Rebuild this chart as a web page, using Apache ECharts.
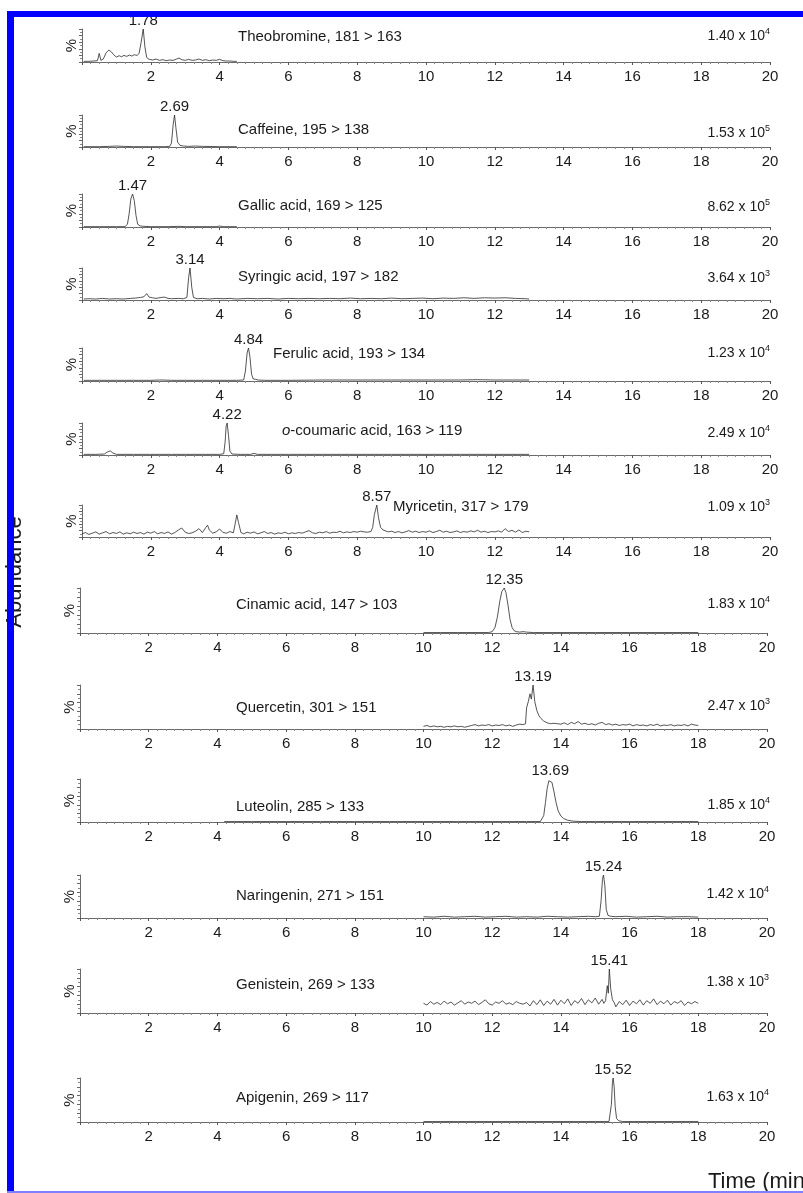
<!DOCTYPE html>
<html>
<head>
<meta charset="utf-8">
<script src="https://cdn.jsdelivr.net/npm/echarts@6/dist/echarts.min.js"></script>
<style>
  html, body { margin: 0; padding: 0; background: #fff; }
  #chart { width: 803px; height: 1193px; }
</style>
</head>
<body>
<div id="chart"></div>
<script>
// ---- Data: MRM chromatograms (time in min, relative abundance in %) ----
const compounds = ['Theobromine', 'Caffeine', 'Gallic acid', 'Syringic acid', 'Ferulic acid',
  'o-coumaric acid', 'Myricetin', 'Cinamic acid', 'Quercetin', 'Luteolin',
  'Naringenin', 'Genistein', 'Apigenin'];
const transitions = ['181 > 163', '195 > 138', '169 > 125', '197 > 182', '193 > 134',
  '163 > 119', '317 > 179', '147 > 103', '301 > 151', '285 > 133',
  '271 > 151', '269 > 133', '269 > 117'];
const scaleMantissa = ['1.40', '1.53', '8.62', '3.64', '1.23', '2.49', '1.09',
  '1.83', '2.47', '1.85', '1.42', '1.38', '1.63'];
const scaleExponent = ['4', '5', '5', '3', '4', '4', '3', '4', '3', '4', '4', '3', '4'];
const peakTimes = [1.78, 2.69, 1.47, 3.14, 4.84, 4.22, 8.57, 12.35, 13.19, 13.69, 15.24, 15.41, 15.52];
const xTickLabels = [2, 4, 6, 8, 10, 12, 14, 16, 18, 20];

const traceTheobromine = [[0.05,2],[0.2,2],[0.35,3],[0.45,4],[0.5,26],[0.55,5],[0.62,9],[0.7,28],[0.78,36],
  [0.85,31],[0.92,22],[1.0,15],[1.08,19],[1.15,16],[1.22,20],[1.3,17],[1.38,21],[1.45,18],[1.52,22],
  [1.6,20],[1.66,26],[1.72,60],[1.78,100],[1.83,45],[1.88,14],[1.95,8],[2.05,6],[2.15,9],[2.25,5],
  [2.35,7],[2.45,4],[2.55,6],[2.65,5],[2.75,9],[2.82,12],[2.9,7],[3.0,5],[3.1,8],[3.2,5],[3.3,6],
  [3.4,9],[3.5,5],[3.6,7],[3.7,4],[3.8,6],[3.9,5],[4.0,8],[4.1,4],[4.2,3],[4.3,3],[4.4,2],[4.5,2]];
const traceCaffeine = [[0.05,1],[0.5,1],[0.8,2],[1.0,3],[1.2,2],[1.5,1],[2.0,1],[2.4,1],[2.55,2],[2.6,12],
  [2.65,70],[2.69,100],[2.73,60],[2.78,15],[2.85,5],[2.95,3],[3.1,2],[3.3,3],[3.5,2],[4.0,1],[4.5,1]];
const traceGallic = [[0.05,1],[0.5,1],[1.0,1],[1.25,1],[1.32,8],[1.37,40],[1.42,85],[1.47,100],[1.52,80],
  [1.57,35],[1.62,8],[1.7,3],[1.8,2],[2.0,1],[2.5,1],[2.85,2],[2.9,3],[3.0,1],[3.9,1],[4.0,3],[4.1,1],[4.5,1]];
const traceSyringic = [[0.05,3],[0.2,4],[0.4,3],[0.6,5],[0.8,3],[1.0,4],[1.2,3],[1.4,5],[1.55,6],[1.7,8],
  [1.8,10],[1.88,20],[1.95,9],[2.05,7],[2.15,5],[2.3,8],[2.4,9],[2.5,5],[2.6,4],[2.8,5],[2.95,4],[3.05,8],
  [3.1,70],[3.14,100],[3.19,40],[3.24,8],[3.35,4],[3.5,5],[3.7,3],[3.9,5],[4.1,4],[4.3,5],[4.5,3],[4.8,5],
  [5.1,4],[5.4,5],[5.7,3],[6.0,5],[6.3,4],[6.6,5],[6.9,4],[7.2,5],[7.5,4],[7.8,6],[8.1,4],[8.4,5],[8.7,4],
  [9.0,6],[9.3,4],[9.6,5],[9.9,6],[10.2,4],[10.5,6],[10.8,5],[11.1,7],[11.4,5],[11.7,7],[12.0,6],[12.3,7],
  [12.6,5],[12.9,4],[13.0,3]];
const traceFerulic = [[0.05,2],[0.5,2],[1.0,2],[1.5,2],[2.0,2],[2.25,3],[2.3,8],[2.35,3],[2.6,2],[3.0,2],
  [3.5,2],[4.0,2],[4.5,2],[4.7,3],[4.75,30],[4.8,85],[4.84,100],[4.88,75],[4.93,20],[4.98,6],[5.05,5],
  [5.12,3],[5.3,2],[6.0,2],[7.0,3],[8.0,3],[9.0,3],[10.0,3],[11.0,3],[11.5,4],[12.0,3],[12.5,3],[13.0,3]];
const traceCoumaric = [[0.05,2],[0.4,2],[0.65,3],[0.75,10],[0.82,13],[0.9,6],[1.0,2],[1.5,2],[2.0,2],[2.6,2],
  [3.0,2],[3.6,2],[4.0,2],[4.12,4],[4.16,40],[4.19,90],[4.22,100],[4.26,60],[4.3,12],[4.36,3],[4.6,2],
  [4.9,2],[5.0,5],[5.1,2],[6.0,2],[7.0,2],[8.0,2],[9.0,2],[10.0,2],[11.0,2],[12.0,2],[13.0,2]];
const traceMyricetin = [[0.0,10],[0.1,14],[0.2,8],[0.3,12],[0.4,16],[0.5,9],[0.6,13],[0.7,17],[0.8,10],
  [0.9,14],[1.0,11],[1.1,16],[1.2,9],[1.3,13],[1.4,10],[1.5,15],[1.6,11],[1.7,14],[1.8,9],[1.9,15],
  [2.0,12],[2.1,17],[2.2,10],[2.3,14],[2.4,11],[2.5,16],[2.6,9],[2.7,14],[2.8,22],[2.9,28],[3.0,15],
  [3.1,11],[3.2,13],[3.3,18],[3.4,26],[3.5,14],[3.6,30],[3.65,37],[3.7,22],[3.8,12],[3.9,16],[4.0,25],
  [4.1,14],[4.2,12],[4.3,17],[4.4,13],[4.45,40],[4.5,69],[4.55,45],[4.62,14],[4.7,10],[4.8,15],[4.9,12],
  [5.0,16],[5.1,10],[5.2,13],[5.3,17],[5.4,11],[5.5,14],[5.6,9],[5.7,13],[5.8,11],[5.9,15],[6.0,10],
  [6.1,13],[6.2,11],[6.3,14],[6.4,12],[6.5,16],[6.6,20],[6.7,13],[6.8,11],[6.9,15],[7.0,13],[7.1,17],
  [7.2,12],[7.3,15],[7.4,14],[7.5,18],[7.6,13],[7.7,16],[7.8,14],[7.9,17],[8.0,15],[8.1,18],[8.2,16],
  [8.3,15],[8.4,17],[8.45,30],[8.5,70],[8.57,100],[8.62,60],[8.68,30],[8.75,22],[8.8,20],[8.9,16],
  [9.0,18],[9.1,14],[9.2,17],[9.3,13],[9.4,16],[9.5,20],[9.6,15],[9.7,18],[9.8,14],[9.9,17],[10.0,15],
  [10.1,19],[10.2,14],[10.3,17],[10.4,21],[10.5,15],[10.6,18],[10.7,14],[10.8,16],[10.9,19],[11.0,14],
  [11.1,17],[11.2,15],[11.3,19],[11.4,16],[11.5,21],[11.6,15],[11.7,18],[11.8,14],[11.9,17],[12.0,16],
  [12.1,19],[12.2,15],[12.3,26],[12.4,17],[12.5,21],[12.6,15],[12.7,22],[12.8,14],[12.9,18],[13.0,16]];
const traceCinamic = [[10.0,1],[10.5,1],[11.0,1],[11.5,1],[11.9,1],[12.0,3],[12.08,12],[12.15,35],[12.22,70],
  [12.28,92],[12.35,100],[12.4,90],[12.46,62],[12.52,30],[12.58,12],[12.64,5],[12.7,3],[12.8,2],[12.9,3],
  [13.0,2],[13.2,1],[14.0,1],[15.0,1],[16.0,1],[17.0,1],[18.0,1]];
const traceQuercetin = [[10.0,6],[10.1,8],[10.2,5],[10.3,7],[10.4,5],[10.5,6],[10.6,4],[10.7,6],[10.8,5],
  [10.9,7],[11.0,5],[11.1,6],[11.2,4],[11.3,6],[11.4,8],[11.5,10],[11.6,7],[11.7,9],[11.8,8],[11.9,10],
  [12.0,7],[12.1,9],[12.2,8],[12.3,10],[12.4,7],[12.5,9],[12.6,6],[12.7,9],[12.8,11],[12.9,10],[12.97,12],
  [13.0,48],[13.05,62],[13.1,80],[13.14,68],[13.19,100],[13.24,62],[13.3,42],[13.36,30],[13.42,24],
  [13.5,18],[13.55,20],[13.6,14],[13.65,17],[13.7,12],[13.75,16],[13.8,13],[13.85,17],[13.9,12],
  [13.95,15],[14.0,11],[14.1,14],[14.2,10],[14.3,15],[14.4,12],[14.5,17],[14.6,11],[14.7,13],[14.8,10],
  [14.9,12],[15.0,9],[15.1,13],[15.2,15],[15.3,10],[15.4,12],[15.5,9],[15.6,11],[15.7,8],[15.8,10],
  [15.9,9],[16.0,11],[16.1,7],[16.2,10],[16.3,8],[16.4,9],[16.5,7],[16.6,10],[16.7,8],[16.8,11],[16.9,7],
  [17.0,9],[17.1,8],[17.2,10],[17.3,7],[17.4,9],[17.5,8],[17.6,10],[17.7,7],[17.8,11],[17.9,9],[18.0,8]];
const traceLuteolin = [[4.2,1],[5,1],[6,1],[7,1],[8,1],[9,1],[10,1],[11,1],[12,1],[13,1],[13.4,1],[13.45,3],
  [13.5,15],[13.55,45],[13.6,78],[13.65,96],[13.69,100],[13.74,92],[13.8,70],[13.86,45],[13.92,26],
  [14.0,14],[14.08,8],[14.2,4],[14.35,2],[14.6,1],[15,1],[16,1],[17,1],[18,1]];
const traceNaringenin = [[10.0,3],[10.3,2],[10.6,4],[10.9,2],[11.2,3],[11.5,4],[11.8,2],[12.1,3],[12.4,4],
  [12.7,2],[13.0,3],[13.3,2],[13.6,4],[13.9,3],[14.2,2],[14.5,3],[14.8,4],[15.0,3],[15.12,4],[15.17,40],
  [15.21,90],[15.24,100],[15.28,75],[15.32,20],[15.37,6],[15.45,4],[15.6,3],[15.9,4],[16.2,2],[16.5,3],
  [16.8,4],[17.1,2],[17.4,3],[17.7,3],[18.0,2]];
const traceGenistein = [[10.0,22],[10.1,18],[10.2,26],[10.3,20],[10.4,24],[10.5,19],[10.6,27],[10.7,21],
  [10.8,25],[10.9,18],[11.0,23],[11.1,28],[11.2,20],[11.3,25],[11.4,22],[11.5,27],[11.6,19],[11.7,24],
  [11.8,30],[11.9,21],[12.0,18],[12.1,25],[12.2,22],[12.3,28],[12.4,20],[12.5,23],[12.6,19],[12.7,26],
  [12.8,22],[12.9,20],[13.0,24],[13.1,16],[13.2,28],[13.3,19],[13.4,30],[13.5,17],[13.6,27],[13.7,20],
  [13.8,31],[13.9,18],[14.0,29],[14.1,21],[14.2,32],[14.3,17],[14.4,28],[14.5,22],[14.6,33],[14.7,19],
  [14.8,30],[14.9,23],[15.0,34],[15.1,20],[15.2,31],[15.25,22],[15.3,28],[15.35,62],[15.38,45],
  [15.41,100],[15.45,55],[15.5,30],[15.55,24],[15.6,14],[15.7,26],[15.8,19],[15.9,29],[16.0,17],
  [16.1,27],[16.2,21],[16.3,30],[16.4,18],[16.5,28],[16.6,22],[16.7,32],[16.8,19],[16.9,27],[17.0,21],
  [17.1,29],[17.2,18],[17.3,26],[17.4,22],[17.5,28],[17.6,17],[17.7,25],[17.8,21],[17.9,26],[18.0,22]];
const traceApigenin = [[10,1],[11,1],[12,1],[13,1],[14,1],[15,1],[15.4,1],[15.44,5],[15.47,40],[15.5,90],
  [15.52,100],[15.55,80],[15.58,35],[15.62,8],[15.68,3],[15.8,1],[16.5,1],[17,1],[18,1]];

const traces = [traceTheobromine, traceCaffeine, traceGallic, traceSyringic, traceFerulic, traceCoumaric,
  traceMyricetin, traceCinamic, traceQuercetin, traceLuteolin, traceNaringenin, traceGenistein, traceApigenin];

// ---- Layout of the stacked panels (pixels) ----
const panelBox = [
  { left: 82, right: 770, top: 29,   bottom: 62 },
  { left: 82, right: 770, top: 115,  bottom: 147 },
  { left: 82, right: 770, top: 194,  bottom: 227 },
  { left: 82, right: 770, top: 268,  bottom: 300 },
  { left: 82, right: 770, top: 348,  bottom: 381 },
  { left: 82, right: 770, top: 423,  bottom: 455 },
  { left: 82, right: 770, top: 505,  bottom: 537 },
  { left: 80, right: 767, top: 588,  bottom: 633 },
  { left: 80, right: 767, top: 685,  bottom: 729 },
  { left: 80, right: 767, top: 779,  bottom: 822 },
  { left: 80, right: 767, top: 875,  bottom: 918 },
  { left: 80, right: 767, top: 969,  bottom: 1013 },
  { left: 80, right: 767, top: 1078, bottom: 1122 }
];
const nameAnchor = [[238,38],[238,131],[238,207],[238,278],[273,355],[282,432],[393,508],
  [236,606],[236,709],[236,808],[236,897],[236,986],[236,1099]];
const scaleAnchor = [[770,36],[770,133],[770,207],[770,278],[770,353],[770,433],[770,507],
  [770,604],[770,706],[770,805],[769,894],[769,982],[769,1097]];

const FONT = "'Liberation Sans', Arial, Helvetica, sans-serif";
const INK = '#1a1a1a';

const grids = [], xAxes = [], yAxes = [], series = [], graphics = [];

panelBox.forEach((b, i) => {
  grids.push({ left: b.left, top: b.top, width: b.right - b.left, height: b.bottom - b.top });
  xAxes.push({
    type: 'value', gridIndex: i, min: 0, max: 20, interval: 2,
    axisLine: { show: true, lineStyle: { color: '#6a6a6a', width: 1 } },
    axisTick: { show: true, length: 3, lineStyle: { color: '#555', width: 1 } },
    minorTick: { show: true, splitNumber: 8, length: 2, lineStyle: { color: '#888', width: 1 } },
    splitLine: { show: false },
    axisLabel: {
      fontSize: 15, color: INK, fontFamily: FONT, margin: 7,
      formatter: v => (xTickLabels.indexOf(v) >= 0 ? String(v) : '')
    }
  });
  yAxes.push({
    type: 'value', gridIndex: i, min: 0, max: 100, interval: 20,
    axisLine: { show: true, lineStyle: { color: '#6a6a6a', width: 1 } },
    axisTick: { show: true, length: 3, lineStyle: { color: '#666' } },
    minorTick: { show: true, splitNumber: 2, length: 2, lineStyle: { color: '#888' } },
    splitLine: { show: false },
    axisLabel: { show: false },
    name: '%', nameLocation: 'middle', nameRotate: 90, nameGap: 3,
    nameTextStyle: { fontSize: 15, color: INK, fontFamily: FONT }
  });
  const peak = peakTimes[i];
  series.push({
    type: 'line', xAxisIndex: i, yAxisIndex: i,
    symbol: 'none', showSymbol: true, silent: true,
    lineStyle: { width: 0.8, color: '#2a2a2a' },
    data: traces[i].map(p => p[0] === peak ? {
      value: p, symbol: 'circle', symbolSize: 0.01,
      itemStyle: { color: 'transparent' },
      label: {
        show: true, position: 'top', distance: 1,
        fontSize: 15, color: INK, fontFamily: FONT,
        formatter: q => q.value[0].toFixed(2)
      }
    } : p)
  });

  // compound name and transition
  const nm = compounds[i];
  const nameText = nm.startsWith('o-')
    ? '{i|o}{t|' + nm.slice(1) + ', ' + transitions[i] + '}'
    : '{t|' + nm + ', ' + transitions[i] + '}';
  graphics.push({
    type: 'text', left: nameAnchor[i][0], top: nameAnchor[i][1] - 9, z: 10,
    style: {
      text: nameText, fill: INK,
      rich: {
        t: { fontSize: 15, fontFamily: FONT, fill: INK, lineHeight: 18 },
        i: { fontSize: 15, fontFamily: FONT, fill: INK, fontStyle: 'italic', lineHeight: 18 }
      }
    }
  });
  // full-scale intensity
  graphics.push({
    type: 'text', right: 803 - scaleAnchor[i][0], top: scaleAnchor[i][1] - 9, z: 10,
    style: {
      text: '{m|' + scaleMantissa[i] + ' x 10}{e|' + scaleExponent[i] + '}', fill: INK,
      rich: {
        m: { fontSize: 14, fontFamily: FONT, fill: INK, lineHeight: 18 },
        e: { fontSize: 9, fontFamily: FONT, fill: INK, verticalAlign: 'top', lineHeight: 14 }
      }
    }
  });
});

// axis titles
graphics.push({
  type: 'text', x: 15, y: 572, rotation: Math.PI / 2, z: 10,
  style: { text: 'Abundance', fontSize: 22, fontFamily: FONT, fill: INK,
           align: 'center', verticalAlign: 'middle' }
});
graphics.push({
  type: 'text', x: 708, y: 1182, z: 10,
  style: { text: 'Time (min)', fontSize: 22, fontFamily: FONT, fill: INK,
           align: 'left', verticalAlign: 'middle' }
});
// page frame
graphics.push({ type: 'rect', shape: { x: 7, y: 11, width: 796, height: 6 }, style: { fill: '#0000ff' }, z: 100 });
graphics.push({ type: 'rect', shape: { x: 7, y: 11, width: 7, height: 1182 }, style: { fill: '#0000ff' }, z: 100 });
graphics.push({ type: 'rect', shape: { x: 7, y: 1191, width: 796, height: 2 }, style: { fill: '#8080ff' }, z: 100 });

const chart = echarts.init(document.getElementById('chart'), null, { renderer: 'canvas' });
chart.setOption({
  animation: false,
  backgroundColor: '#ffffff',
  grid: grids,
  xAxis: xAxes,
  yAxis: yAxes,
  series: series,
  graphic: { elements: graphics }
});
</script>
</body>
</html>
